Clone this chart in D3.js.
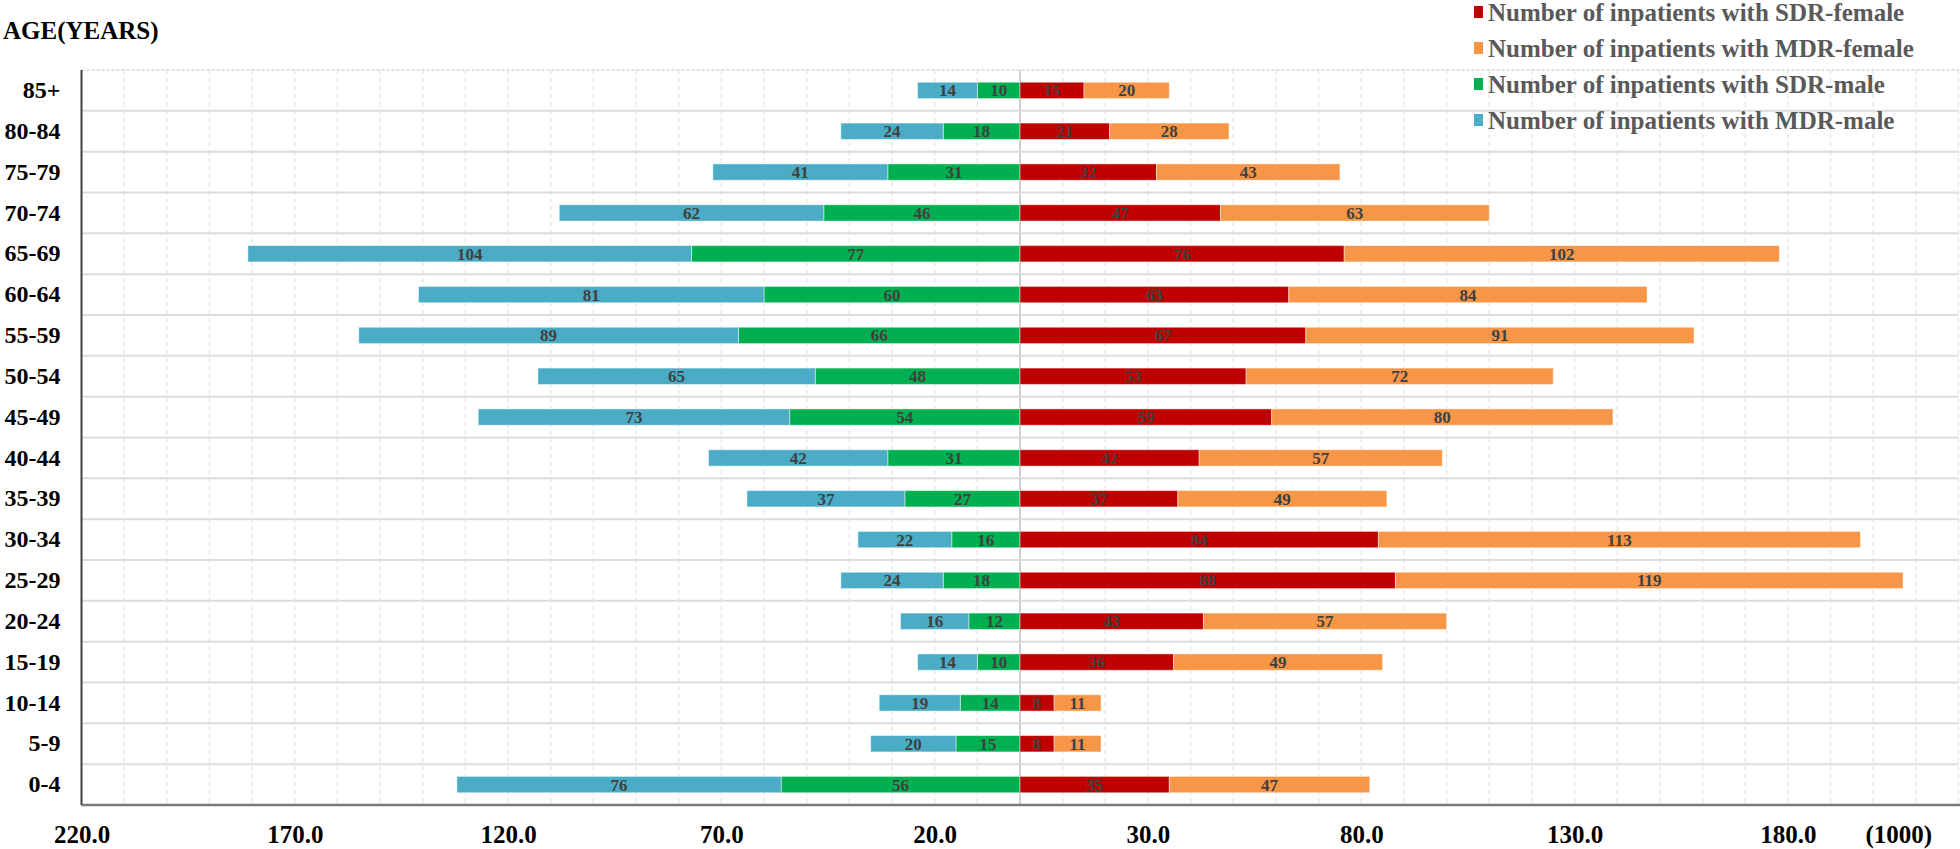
<!DOCTYPE html>
<html>
<head>
<meta charset="utf-8">
<script src="https://cdn.jsdelivr.net/npm/d3@7/dist/d3.min.js"></script>
<style>
  html, body { margin: 0; padding: 0; background: #ffffff; }
  svg { display: block; }
  text { font-family: "Liberation Serif", "Times New Roman", serif; font-weight: bold; }
</style>
</head>
<body>
<svg id="chart" width="1960" height="849"></svg>
<script>
// ---- data ----
const categories = ["85+","80-84","75-79","70-74","65-69","60-64","55-59","50-54","45-49","40-44","35-39","30-34","25-29","20-24","15-19","10-14","5-9","0-4"];
const mdrMale    = [14, 24, 41, 62, 104, 81, 89, 65, 73, 42, 37, 22, 24, 16, 14, 19, 20, 76];
const sdrMale    = [10, 18, 31, 46, 77, 60, 66, 48, 54, 31, 27, 16, 18, 12, 10, 14, 15, 56];
const sdrFemale  = [15, 21, 32, 47, 76, 63, 67, 53, 59, 42, 37, 84, 88, 43, 36, 8, 8, 35];
const mdrFemale  = [20, 28, 43, 63, 102, 84, 91, 72, 80, 57, 49, 113, 119, 57, 49, 11, 11, 47];
const seriesNames = ["Number of inpatients with SDR-female","Number of inpatients with MDR-female","Number of inpatients with SDR-male","Number of inpatients with MDR-male"];
const seriesColors = ["#C00000","#F79646","#00B050","#4BACC6"];
const tickValues = [-220,-170,-120,-70,-20,30,80,130,180];
const unitLabel = "(1000)";
const yTitle = "AGE(YEARS)";

// ---- layout ----
const svg = d3.select("#chart");
const plotTop = 70, plotBottom = 805;
const x = d3.scaleLinear().domain([-220, 220]).range([81.5, 1958.5]);
const y = d3.scaleBand().domain(categories).range([plotTop, plotBottom]).paddingInner(0.6).paddingOuter(0.3);

// gridlines (vertical)
const grid = svg.append("g");
grid.selectAll("line.v").data(d3.range(-210, 221, 10)).join("line")
  .attr("x1", d => x(d)).attr("x2", d => x(d))
  .attr("y1", plotTop).attr("y2", plotBottom)
  .attr("stroke", d => d === 0 ? "#d0d0d0" : "#e6e6e6")
  .attr("stroke-width", d => d === 0 ? 2 : 1.3)
  .attr("stroke-dasharray", d => d === 0 ? null : "5,3");
// horizontal row boundaries
const step = y.step();
grid.selectAll("line.h").data(d3.range(0, categories.length)).join("line")
  .attr("x1", x(-220)).attr("x2", x(220))
  .attr("y1", i => plotTop + i * step).attr("y2", i => plotTop + i * step)
  .attr("stroke", i => i === 0 ? "#d6d6d6" : "#dcdcdc")
  .attr("stroke-width", i => i === 0 ? 1.3 : 2)
  .attr("stroke-dasharray", i => i === 0 ? "3,2" : null);

// bars
const rows = categories.map((c, i) => ({c, mm: mdrMale[i], sm: sdrMale[i], sf: sdrFemale[i], mf: mdrFemale[i]}));
const segs = [];
rows.forEach(r => {
  segs.push({c: r.c, x0: 0, x1: -r.sm, v: r.sm, color: seriesColors[2]});
  segs.push({c: r.c, x0: -r.sm, x1: -(r.sm + r.mm), v: r.mm, color: seriesColors[3]});
  segs.push({c: r.c, x0: 0, x1: r.sf, v: r.sf, color: seriesColors[0]});
  segs.push({c: r.c, x0: r.sf, x1: r.sf + r.mf, v: r.mf, color: seriesColors[1]});
});
const bars = svg.append("g");
bars.selectAll("rect").data(segs).join("rect")
  .attr("x", d => Math.min(x(d.x0), x(d.x1)))
  .attr("width", d => Math.abs(x(d.x1) - x(d.x0)))
  .attr("y", d => y(d.c))
  .attr("height", y.bandwidth())
  .attr("fill", d => d.color)
  .attr("stroke", "rgba(255,255,255,0.45)")
  .attr("stroke-width", 1);
bars.selectAll("text").data(segs).join("text")
  .attr("x", d => x((d.x0 + d.x1) / 2))
  .attr("y", d => y(d.c) + y.bandwidth() / 2)
  .attr("dy", "0.35em")
  .attr("text-anchor", "middle")
  .attr("font-size", 17)
  .attr("fill", "#404040")
  .text(d => d.v);

// axes
const xAxis = svg.append("g").attr("transform", `translate(0,${plotBottom})`)
  .call(d3.axisBottom(x).tickValues(tickValues).tickFormat(d => Math.abs(d).toFixed(1)).tickSize(0).tickPadding(20));
xAxis.select(".domain").remove();
xAxis.selectAll("text").attr("font-size", 25).attr("fill", "#000").style("font-family", "'Liberation Serif','Times New Roman',serif").style("font-weight", "bold");
svg.append("text").attr("x", x(206)).attr("y", plotBottom + 20).attr("dy", "0.71em")
  .attr("text-anchor", "middle").attr("font-size", 25).attr("fill", "#000").text(unitLabel);
svg.append("line").attr("x1", x(-220)).attr("x2", 1960).attr("y1", plotBottom).attr("y2", plotBottom)
  .attr("stroke", "#7a7a7a").attr("stroke-width", 2.5);

const yAxis = svg.append("g").attr("transform", `translate(${x(-220)},0)`)
  .call(d3.axisLeft(y).tickSize(0).tickPadding(21));
yAxis.select(".domain").remove();
yAxis.selectAll("text").attr("font-size", 24).attr("fill", "#000").style("font-family", "'Liberation Serif','Times New Roman',serif").style("font-weight", "bold");
svg.append("line").attr("x1", x(-220)).attr("x2", x(-220)).attr("y1", plotTop).attr("y2", plotBottom)
  .attr("stroke", "#404040").attr("stroke-width", 2);

svg.append("text").attr("x", 3).attr("y", 30).attr("dy", "0.35em")
  .attr("font-size", 25).attr("fill", "#000").text(yTitle);

// legend
const legend = svg.append("g").attr("transform", "translate(1488,0)");
const lg = legend.selectAll("g").data(seriesNames).join("g")
  .attr("transform", (d, i) => `translate(0,${12 + i * 36})`);
lg.append("rect").attr("x", -14).attr("y", -6).attr("width", 9).attr("height", 12)
  .attr("fill", (d, i) => seriesColors[i]);
lg.append("text").attr("x", 0).attr("dy", "0.35em").attr("font-size", 25)
  .attr("fill", "#595959").text(d => d);
</script>
</body>
</html>
